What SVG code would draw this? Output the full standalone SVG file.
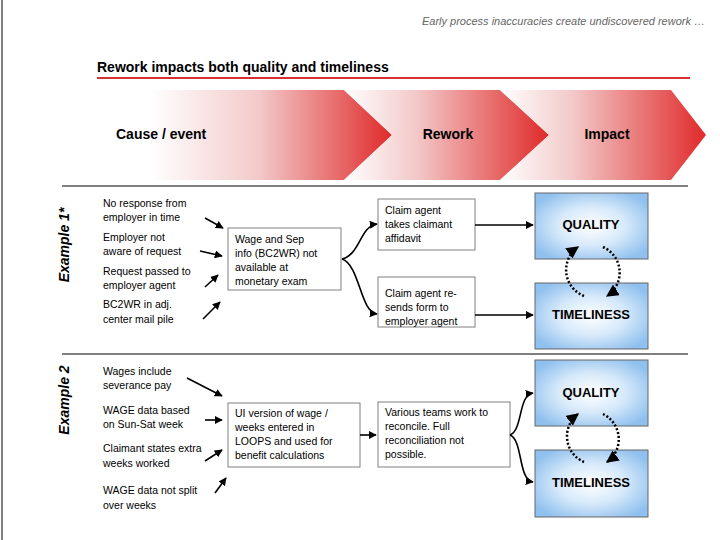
<svg xmlns="http://www.w3.org/2000/svg" width="720" height="540" viewBox="0 0 720 540">
<defs>
<linearGradient id="ch1" x1="150" y1="0" x2="392" y2="0" gradientUnits="userSpaceOnUse"><stop offset="0" stop-color="#fff"/><stop offset="0.45" stop-color="#f3c9c9"/><stop offset="1" stop-color="#e02a2a"/></linearGradient>
<linearGradient id="ch2" x1="344" y1="0" x2="549" y2="0" gradientUnits="userSpaceOnUse"><stop offset="0" stop-color="#fff"/><stop offset="0.35" stop-color="#f3c9c9"/><stop offset="1" stop-color="#e02a2a"/></linearGradient>
<linearGradient id="ch3" x1="500" y1="0" x2="706" y2="0" gradientUnits="userSpaceOnUse"><stop offset="0" stop-color="#fff"/><stop offset="0.35" stop-color="#f3c9c9"/><stop offset="1" stop-color="#e02a2a"/></linearGradient>
<radialGradient id="blue" cx="0.5" cy="0.5" r="0.6"><stop offset="0" stop-color="#fff"/><stop offset="0.5" stop-color="#d6e9fa"/><stop offset="1" stop-color="#8fc0ee"/></radialGradient>
<marker id="ah" viewBox="0 0 10 10" refX="9" refY="5" markerWidth="5" markerHeight="5" orient="auto"><path d="M0,0L10,5L0,10z" fill="#000"/></marker>
</defs>
<style>
text{font-family:"Liberation Sans",Arial,sans-serif;fill:#000}
.t{font-size:10.5px}
.h{font-size:14px;font-weight:bold}
.q{font-size:13px;font-weight:bold;text-anchor:middle}
.box{fill:#fff;stroke:#808080;stroke-width:1}
.ibox{fill:url(#blue);stroke:#666;stroke-width:1}
.c{fill:none;stroke:#000;stroke-width:1.6;marker-end:url(#ah)}
.d{fill:none;stroke:#000;stroke-width:2.5;stroke-dasharray:2,2;marker-end:url(#ah)}
</style>
<rect width="720" height="540" fill="#fff"/>
<line x1="2" y1="0" x2="2" y2="540" stroke="#000"/>
<text x="705" y="25" text-anchor="end" style="font-size:11px;font-style:italic;fill:#666">Early process inaccuracies create undiscovered rework …</text>
<text x="97" y="72" class="h">Rework impacts both quality and timeliness</text>
<line x1="97" y1="78" x2="690" y2="78" stroke="#d73030" stroke-width="2"/>
<g id="chevrons">
<path d="M150,90H344L392,135L344,180H150Z" fill="url(#ch1)"/>
<path d="M344,90H500L549,135L500,180H344L392,135Z" fill="url(#ch2)"/>
<path d="M500,90H671L706,135L671,180H500L549,135Z" fill="url(#ch3)"/>
</g>
<text x="116" y="139" class="h">Cause / event</text>
<text x="448" y="139" class="h" text-anchor="middle">Rework</text>
<text x="607" y="139" class="h" text-anchor="middle">Impact</text>
<line x1="62" y1="186" x2="688" y2="186" stroke="#000"/>
<line x1="62" y1="354" x2="688" y2="354" stroke="#000"/>
<text transform="translate(69,245) rotate(-90)" class="h" text-anchor="middle" font-style="italic">Example 1*</text>
<text transform="translate(69,400) rotate(-90)" class="h" text-anchor="middle" font-style="italic">Example 2</text>
<g id="causes1">
<text x="103" y="207" class="t">No response from</text><text x="103" y="221" class="t">employer in time</text>
<text x="103" y="241" class="t">Employer not</text><text x="103" y="255" class="t">aware of request</text>
<text x="103" y="275" class="t">Request passed to</text><text x="103" y="289" class="t">employer agent</text>
<text x="103" y="308" class="t">BC2WR in adj.</text><text x="103" y="323" class="t">center mail pile</text>
</g>
<g id="wage"><rect x="228" y="228" width="113" height="62" class="box"/>
<text x="235" y="243" class="t">Wage and Sep</text><text x="235" y="257" class="t">info (BC2WR) not</text><text x="235" y="271" class="t">available at</text><text x="235" y="285" class="t">monetary exam</text></g>
<g id="claim1"><rect x="378" y="199" width="97" height="51" class="box"/>
<text x="385" y="214" class="t">Claim agent</text><text x="385" y="228" class="t">takes claimant</text><text x="385" y="242" class="t">affidavit</text></g>
<g id="claim2"><rect x="378" y="277" width="97" height="50" class="box"/>
<text x="385" y="297" class="t">Claim agent re-</text><text x="385" y="311" class="t">sends form to</text><text x="385" y="325" class="t">employer agent</text></g>
<g id="q1"><rect x="535" y="193" width="113" height="66" class="ibox"/><text x="591" y="229" class="q">QUALITY</text></g>
<g id="t1"><rect x="535" y="283" width="113" height="66" class="ibox"/><text x="591" y="319" class="q">TIMELINESS</text></g>
<g id="causes2">
<text x="103" y="375" class="t">Wages include</text><text x="103" y="389" class="t">severance pay</text>
<text x="103" y="414" class="t">WAGE data based</text><text x="103" y="428" class="t">on Sun-Sat week</text>
<text x="103" y="452" class="t">Claimant states extra</text><text x="103" y="467" class="t">weeks worked</text>
<text x="103" y="494" class="t">WAGE data not split</text><text x="103" y="509" class="t">over weeks</text>
</g>
<g id="ui"><rect x="228" y="403" width="132" height="64" class="box"/>
<text x="235" y="417" class="t">UI version of wage /</text><text x="235" y="431" class="t">weeks entered in</text><text x="235" y="445" class="t">LOOPS and used for</text><text x="235" y="459" class="t">benefit calculations</text></g>
<g id="various"><rect x="378" y="402" width="132" height="65" class="box"/>
<text x="385" y="416" class="t">Various teams work to</text><text x="385" y="430" class="t">reconcile. Full</text><text x="385" y="444" class="t">reconciliation not</text><text x="385" y="458" class="t">possible.</text></g>
<g id="q2"><rect x="535" y="360" width="113" height="66" class="ibox"/><text x="591" y="397" class="q">QUALITY</text></g>
<g id="t2"><rect x="535" y="450" width="113" height="67" class="ibox"/><text x="591" y="487" class="q">TIMELINESS</text></g>
<g id="connectors">
<path class="c" d="M205,218L223,228"/>
<path class="c" d="M200,251L222,256"/>
<path class="c" d="M205,287L218,275"/>
<path class="c" d="M203,319L220,302"/>
<path class="c" d="M342,259C360,255 360,226 377,224"/>
<path class="c" d="M342,259C360,265 360,312 377,314"/>
<path class="c" d="M475,225H533"/>
<path class="c" d="M475,315H533"/>
<path class="d" d="M584,296A28,28 0 0 1 578,247"/>
<path class="d" d="M603,247A28,28 0 0 1 607,296"/>
<path class="c" d="M187,378L222,396"/>
<path class="c" d="M205,420H222"/>
<path class="c" d="M205,461L222,450"/>
<path class="c" d="M215,493L226,478"/>
<path class="c" d="M360,435H376"/>
<path class="c" d="M510,435C523,430 518,395 533,393"/>
<path class="c" d="M510,435C523,440 518,480 533,482"/>
<path class="d" d="M584,462A28,28 0 0 1 578,414"/>
<path class="d" d="M603,414A28,28 0 0 1 607,462"/>
</g>
</svg>
